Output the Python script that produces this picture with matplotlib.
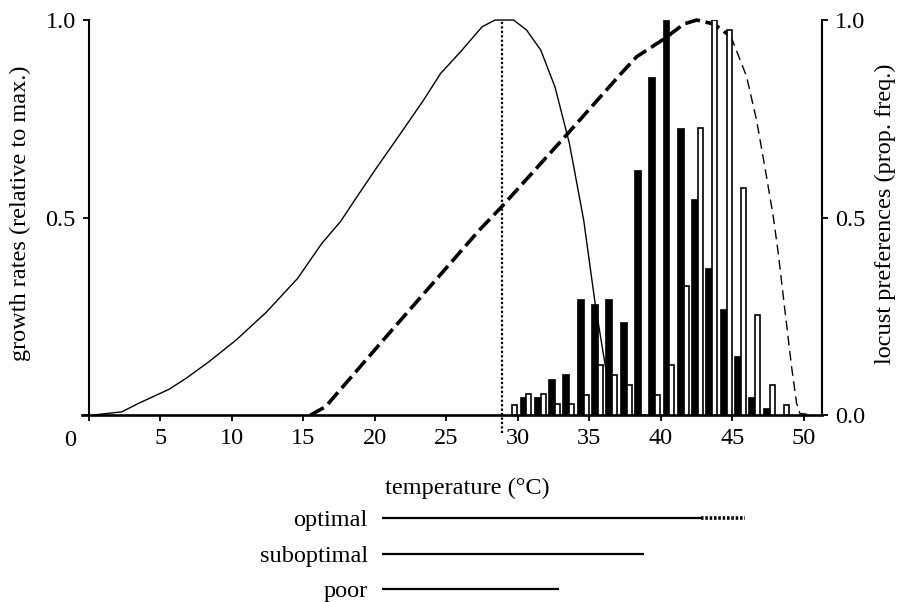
import numpy as np
import matplotlib
matplotlib.use('Agg')
import matplotlib.pyplot as plt

plt.rcParams['font.family'] = ['Liberation Serif', 'DejaVu Serif']
plt.rcParams['font.size'] = 17.5

# growth rate curve (solid)
growth_x = [0.3, 2.3, 3.5, 4.7, 5.6, 6.8, 8.4, 10.3, 12.4, 14.6, 16.3, 17.6, 18.7, 20.1,
            21.8, 23.4, 24.6, 26.0, 27.5, 28.4, 29.7, 30.6, 31.6, 32.6, 33.6, 34.6,
            35.4, 36.2, 36.9]
growth_y = [0.0, 0.008, 0.03, 0.05, 0.065, 0.093, 0.135, 0.19, 0.26, 0.346, 0.435, 0.49,
            0.55, 0.625, 0.713, 0.797, 0.865, 0.92, 0.983, 1.0, 1.0, 0.975, 0.924, 0.83,
            0.688, 0.494, 0.283, 0.105, 0.0]

# second growth curve (thick dashed part, then thin dashed tail)
growth2_x = [15.5, 16.55, 21.0, 27.3, 28.86, 33.4, 37.1, 38.3, 40.3, 41.6, 42.5,
             43.7, 44.9]
growth2_y = [0.0, 0.021, 0.207, 0.468, 0.527, 0.709, 0.86, 0.907, 0.954, 0.99, 1.0,
             0.99, 0.958]
tail_x = [44.9, 45.64, 45.99, 46.69, 47.39, 47.86, 48.21, 48.67, 49.14, 49.49, 49.72, 50.65]
tail_y = [0.958, 0.89, 0.857, 0.747, 0.603, 0.502, 0.409, 0.266, 0.122, 0.03, 0.004, 0.0]

optimum_temp = 28.86

# locust preferences (proportional frequency)
temps = np.arange(29, 49)
pref_black = [0.0, 0.046, 0.046, 0.090, 0.105, 0.295, 0.281, 0.295, 0.236, 0.620,
              0.855, 1.0, 0.726, 0.546, 0.371, 0.268, 0.149, 0.046, 0.019, 0.0]
pref_white = [0.025, 0.052, 0.052, 0.027, 0.027, 0.051, 0.127, 0.101, 0.076, 0.0,
              0.051, 0.127, 0.327, 0.727, 1.0, 0.976, 0.576, 0.253, 0.076, 0.025]

# temperature ranges under the axis
range_labels = ['optimal', 'suboptimal', 'poor']
range_start = [20.5, 20.5, 20.5]
range_end = [42.8, 38.8, 32.9]
optimal_ext_end = 45.9

fig = plt.figure(figsize=(8.98, 6.02), dpi=100)
ax = fig.add_axes([0.0910, 0.3106, 0.8241, 0.6561])
ax.set_xlim(-0.5, 51.25)
ax.set_ylim(0, 1.0)

ax.plot(growth_x, growth_y, color='black', lw=1.0, clip_on=False)
ax.plot(growth2_x, growth2_y, color='black', lw=2.6, dashes=(4.2, 1.6), clip_on=False)
ax.plot(tail_x, tail_y, color='black', lw=1.0, dashes=(7, 4), clip_on=False)
ax.plot([optimum_temp, optimum_temp], [-0.045, 1.0], color='black', lw=1.6,
        dashes=(1, 1), clip_on=False)

for s in ['top', 'right']:
    ax.spines[s].set_visible(False)
ax.spines['left'].set_position(('data', 0))
ax.spines['left'].set_linewidth(1.5)
ax.spines['bottom'].set_linewidth(1.9)
ax.tick_params(direction='out', length=4.5, width=1.3, pad=5)
ax.set_xticks(range(0, 51, 5), [''] + [str(v) for v in range(5, 51, 5)])
ax.set_yticks([0, 0.5, 1.0], ['', '0.5', '1.0'])
ax.text(-1.3, -0.065, '0', ha='center', va='center')

ax.text(0.521, -0.185, 'temperature (\u00b0C)', transform=ax.transAxes,
        ha='center', va='center')
ax.text(-0.0834, 0.51, 'growth rates (relative to max.)', transform=ax.transAxes,
        ha='center', va='center', rotation=90)

ax2 = ax.twinx()
ax2.set_ylim(0, 1.0)
ax2.bar(temps + 0.12, pref_black, width=0.48, align='edge', color='black',
        edgecolor='black', lw=0.5)
ax2.bar(temps + 0.6, pref_white, width=0.35, align='edge', color='white',
        edgecolor='black', lw=1.2)
for s in ['top', 'left', 'bottom']:
    ax2.spines[s].set_visible(False)
ax2.spines['right'].set_linewidth(1.5)
ax2.tick_params(direction='out', length=4.5, width=1.3, pad=5)
ax2.set_yticks([0, 0.5, 1.0], ['0.0', '0.5', '1.0'])
ax2.text(1.0855, 0.51, 'locust preferences (prop. freq.)', transform=ax2.transAxes,
         ha='center', va='center', rotation=90)

# range bars below the axis
ax3 = fig.add_axes([0.0910, 0.0033, 0.8241, 0.1661])
ax3.set_xlim(ax.get_xlim())
ax3.set_ylim(2.31, -0.507)
ax3.axis('off')
for i, label in enumerate(range_labels):
    ax3.plot([range_start[i], range_end[i]], [i, i], color='black', lw=1.6,
             solid_capstyle='butt')
    ax3.text(range_start[i] - 1.0, i, label, ha='right', va='center_baseline')
ax3.plot([range_end[0], optimal_ext_end], [0, 0], color='black', lw=2.6,
         dashes=(0.7, 0.5))

fig.savefig('out.png', dpi=100)
